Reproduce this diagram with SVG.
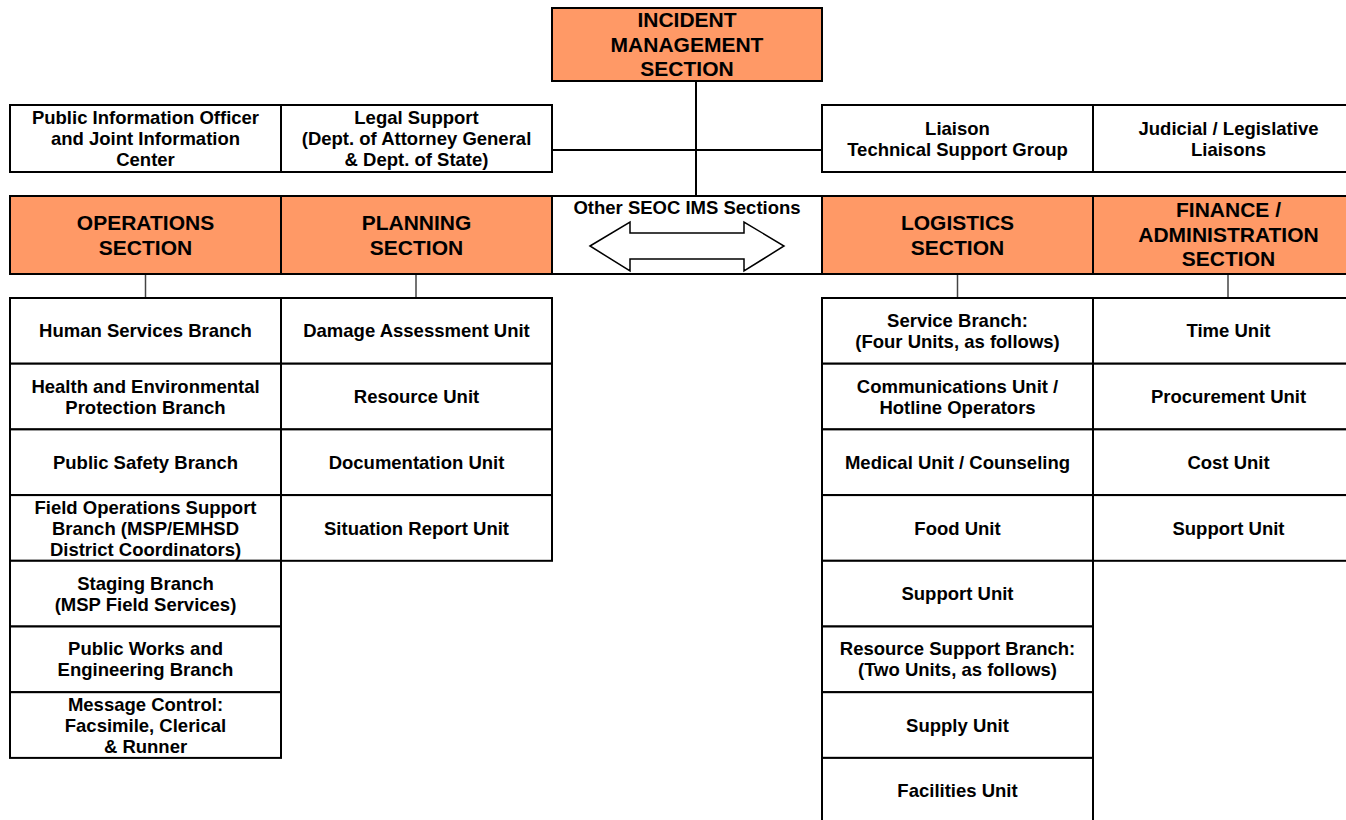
<svg xmlns="http://www.w3.org/2000/svg" width="1346" height="820" viewBox="0 0 1346 820">
<style>
.box{fill:#fff;stroke:#000;stroke-width:2}
.sec{fill:#FF9966;stroke:#000;stroke-width:2}
.t{font-family:"Liberation Sans",Arial,sans-serif;font-weight:bold;font-size:18.5px;text-anchor:middle;fill:#000}
.h{font-family:"Liberation Sans",Arial,sans-serif;font-weight:bold;font-size:21px;text-anchor:middle;fill:#000}
.ln{stroke:#000;stroke-width:2;fill:none}
.gl{stroke:#444;stroke-width:1.5;fill:none}
</style>
<rect width="1346" height="820" fill="#fff"/>
<g id="connectors">
<line class="ln" x1="696" y1="81" x2="696" y2="196"/>
<line class="ln" x1="552" y1="150" x2="822" y2="150"/>
<line class="gl" x1="145.5" y1="274" x2="145.5" y2="298"/>
<line class="gl" x1="416" y1="274" x2="416" y2="298"/>
<line class="gl" x1="957.5" y1="274" x2="957.5" y2="298"/>
<line class="gl" x1="1228" y1="274" x2="1228" y2="298"/>
</g>
<g id="incident">
<rect class="sec" x="552" y="8" width="270" height="73"/>
<text class="h" x="687" y="27">INCIDENT</text>
<text class="h" x="687" y="52">MANAGEMENT</text>
<text class="h" x="687" y="76">SECTION</text>
</g>
<g id="pio">
<rect class="box" x="10" y="105" width="271" height="67"/>
<text class="t" x="145.5" y="124">Public Information Officer</text>
<text class="t" x="145.5" y="145">and Joint Information</text>
<text class="t" x="145.5" y="166">Center</text>
</g>
<g id="legal">
<rect class="box" x="281" y="105" width="271" height="67"/>
<text class="t" x="416.5" y="124">Legal Support</text>
<text class="t" x="416.5" y="145">(Dept. of Attorney General</text>
<text class="t" x="416.5" y="166">&amp; Dept. of State)</text>
</g>
<g id="liaison">
<rect class="box" x="822" y="105" width="271" height="67"/>
<text class="t" x="957.5" y="134.5">Liaison</text>
<text class="t" x="957.5" y="155.5">Technical Support Group</text>
</g>
<g id="judicial">
<rect class="box" x="1093" y="105" width="271" height="67"/>
<text class="t" x="1228.5" y="134.5">Judicial / Legislative</text>
<text class="t" x="1228.5" y="155.5">Liaisons</text>
</g>
<g id="operations">
<rect class="sec" x="10" y="196" width="271" height="78"/>
<text class="h" x="145.5" y="230">OPERATIONS</text>
<text class="h" x="145.5" y="255">SECTION</text>
</g>
<g id="planning">
<rect class="sec" x="281" y="196" width="271" height="78"/>
<text class="h" x="416.5" y="230">PLANNING</text>
<text class="h" x="416.5" y="255">SECTION</text>
</g>
<g id="other">
<rect class="box" x="552" y="196" width="270" height="78"/>
<text class="t" x="687" y="213.5">Other SEOC IMS Sections</text>
<polygon points="590,246 630,222 630,233 744,233 744,222 784,246 744,271 744,259 630,259 630,271" fill="#fff" stroke="#000" stroke-width="1.5"/>
</g>
<g id="logistics">
<rect class="sec" x="822" y="196" width="271" height="78"/>
<text class="h" x="957.5" y="230">LOGISTICS</text>
<text class="h" x="957.5" y="255">SECTION</text>
</g>
<g id="finance">
<rect class="sec" x="1093" y="196" width="271" height="78"/>
<text class="h" x="1228.5" y="217">FINANCE /</text>
<text class="h" x="1228.5" y="241.5">ADMINISTRATION</text>
<text class="h" x="1228.5" y="266">SECTION</text>
</g>
<g id="ops-units">
<rect class="box" x="10" y="298" width="271" height="65.7"/>
<text class="t" x="145.5" y="337.4">Human Services Branch</text>
<rect class="box" x="10" y="363.7" width="271" height="65.7"/>
<text class="t" x="145.5" y="392.5">Health and Environmental</text>
<text class="t" x="145.5" y="413.5">Protection Branch</text>
<rect class="box" x="10" y="429.4" width="271" height="65.7"/>
<text class="t" x="145.5" y="468.7">Public Safety Branch</text>
<rect class="box" x="10" y="495.1" width="271" height="65.7"/>
<text class="t" x="145.5" y="513.5">Field Operations Support</text>
<text class="t" x="145.5" y="534.5">Branch (MSP/EMHSD</text>
<text class="t" x="145.5" y="555.5">District Coordinators)</text>
<rect class="box" x="10" y="560.8" width="271" height="65.7"/>
<text class="t" x="145.5" y="589.6">Staging Branch</text>
<text class="t" x="145.5" y="610.6">(MSP Field Services)</text>
<rect class="box" x="10" y="626.5" width="271" height="65.7"/>
<text class="t" x="145.5" y="655.3">Public Works and</text>
<text class="t" x="145.5" y="676.3">Engineering Branch</text>
<rect class="box" x="10" y="692.2" width="271" height="65.7"/>
<text class="t" x="145.5" y="710.5">Message Control:</text>
<text class="t" x="145.5" y="731.5">Facsimile, Clerical</text>
<text class="t" x="145.5" y="752.5">&amp; Runner</text>
</g>
<g id="planning-units">
<rect class="box" x="281" y="298" width="271" height="65.7"/>
<text class="t" x="416.5" y="337.4">Damage Assessment Unit</text>
<rect class="box" x="281" y="363.7" width="271" height="65.7"/>
<text class="t" x="416.5" y="403.1">Resource Unit</text>
<rect class="box" x="281" y="429.4" width="271" height="65.7"/>
<text class="t" x="416.5" y="468.7">Documentation Unit</text>
<rect class="box" x="281" y="495.1" width="271" height="65.7"/>
<text class="t" x="416.5" y="534.5">Situation Report Unit</text>
</g>
<g id="logistics-units">
<rect class="box" x="822" y="298" width="271" height="65.7"/>
<text class="t" x="957.5" y="326.8">Service Branch:</text>
<text class="t" x="957.5" y="347.8">(Four Units, as follows)</text>
<rect class="box" x="822" y="363.7" width="271" height="65.7"/>
<text class="t" x="957.5" y="392.5">Communications Unit /</text>
<text class="t" x="957.5" y="413.5">Hotline Operators</text>
<rect class="box" x="822" y="429.4" width="271" height="65.7"/>
<text class="t" x="957.5" y="468.7">Medical Unit / Counseling</text>
<rect class="box" x="822" y="495.1" width="271" height="65.7"/>
<text class="t" x="957.5" y="534.5">Food Unit</text>
<rect class="box" x="822" y="560.8" width="271" height="65.7"/>
<text class="t" x="957.5" y="600.1">Support Unit</text>
<rect class="box" x="822" y="626.5" width="271" height="65.7"/>
<text class="t" x="957.5" y="655.3">Resource Support Branch:</text>
<text class="t" x="957.5" y="676.3">(Two Units, as follows)</text>
<rect class="box" x="822" y="692.2" width="271" height="65.7"/>
<text class="t" x="957.5" y="731.5">Supply Unit</text>
<rect class="box" x="822" y="757.9" width="271" height="65.7"/>
<text class="t" x="957.5" y="797.2">Facilities Unit</text>
</g>
<g id="finance-units">
<rect class="box" x="1093" y="298" width="271" height="65.7"/>
<text class="t" x="1228.5" y="337.4">Time Unit</text>
<rect class="box" x="1093" y="363.7" width="271" height="65.7"/>
<text class="t" x="1228.5" y="403.1">Procurement Unit</text>
<rect class="box" x="1093" y="429.4" width="271" height="65.7"/>
<text class="t" x="1228.5" y="468.7">Cost Unit</text>
<rect class="box" x="1093" y="495.1" width="271" height="65.7"/>
<text class="t" x="1228.5" y="534.5">Support Unit</text>
</g>
</svg>
